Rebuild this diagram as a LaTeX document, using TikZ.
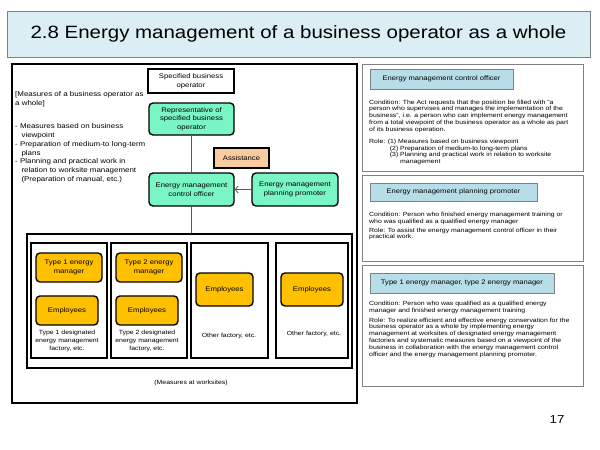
\documentclass[tikz,border=0pt]{standalone}
\usepackage{fontspec}
\setmainfont[FakeStretch=1.15]{Liberation Sans}
\usetikzlibrary{arrows.meta}

\definecolor{titlefill}{RGB}{219,238,243}
\definecolor{headfill}{RGB}{183,222,232}
\definecolor{orggreen}{RGB}{122,245,196}
\definecolor{assistfill}{RGB}{248,203,160}
\definecolor{mgrorange}{RGB}{255,192,0}
\definecolor{panelgray}{RGB}{128,128,128}

\begin{document}
\begin{tikzpicture}[x=1pt, y=-1pt,
		every node/.style = {inner sep=0pt, align=center},
		wh/.style 2 args = {minimum width=#1pt, minimum height=#2pt},
		boxtext/.style = {font=\fontsize{6.7}{8.7}\selectfont},
		frame/.style = {draw, line width=1.3pt},
		orgbox/.style = {boxtext, draw, line width=1.4pt, rounded corners=4pt, fill=orggreen},
		staffbox/.style = {boxtext, draw, line width=1.4pt, rounded corners=4pt, fill=mgrorange},
		panel/.style = {draw=panelgray, line width=0.8pt},
		headbox/.style = {panel, fill=headfill, font=\fontsize{6.6}{8}\selectfont},
		panetext/.style = {anchor=north west, align=left, font=\fontsize{6}{6.8}\selectfont},
		caption/.style = {font=\fontsize{6}{8}\selectfont},
		link/.style = {draw=black!65, line width=0.8pt}]
	\useasboundingbox (0,0) rectangle (600,450);

	% title
	\node[panel, fill=titlefill, wh={583}{46}, font=\fontsize{17.8}{20}\selectfont] (title) at (298.5,34)
		{2.8 Energy management of a business operator as a whole};

	% business operator as a whole
	\node[frame, line width=1.5pt, wh={345}{339}] (whole) at (184.5,233.5) {};
	\node[anchor=north west, align=left, font=\fontsize{6.9}{9}\selectfont] (scope) at (15,91)
		{[Measures of a business operator as\\a whole]};
	\node[anchor=north west, align=left, font=\fontsize{6.9}{8.8}\selectfont] (measures) at (15,123.5)
		{- Measures based on business\\\hphantom{- }\hspace*{1.5pt}viewpoint\\
		- Preparation of medium-to long-term\\\hphantom{- }\hspace*{1.5pt}plans\\
		- Planning and practical work in\\\hphantom{- }\hspace*{1.5pt}relation to worksite management\\
		\hphantom{- }\hspace*{1.5pt}(Preparation of manual, etc.)};

	\node[frame, line width=1.2pt, boxtext, wh={86}{24}] (spec) at (191,81) {Specified business\\operator};
	\node[orgbox, wh={85}{32}] (rep) at (191.5,119) {Representative of\\specified business\\operator};
	\node[draw, line width=1.2pt, fill=assistfill, boxtext, wh={55}{20}] (assist) at (241.5,158) {Assistance};
	\node[orgbox, wh={85}{33}] (officer) at (191.5,189.5) {Energy management\\control officer};
	\node[orgbox, wh={86}{33}] (promoter) at (295,189.5) {Energy management\\planning promoter};

	% worksites
	\node[frame, line width=1.5pt, wh={325}{134}] (sites) at (189.5,301) {};
	\node[frame, wh={76}{115}] (factory1) at (69,300.5) {};
	\node[frame, wh={76}{115}] (factory2) at (149,300.5) {};
	\node[frame, wh={77}{115}] (other1) at (229.5,300.5) {};
	\node[frame, wh={72}{115}] (other2) at (312,300.5) {};

	\node[staffbox, wh={66}{29}] (mgr1) at (69,267.5) {Type 1 energy\\manager};
	\node[staffbox, wh={62}{29}] (emp1) at (67,310.5) {Employees};
	\node[staffbox, wh={66}{29}] (mgr2) at (149,267.5) {Type 2 energy\\manager};
	\node[staffbox, wh={62}{29}] (emp2) at (147,310.5) {Employees};
	\node[staffbox, wh={57}{33}] (emp3) at (224.5,289.5) {Employees};
	\node[staffbox, wh={62}{33}] (emp4) at (312,289.5) {Employees};

	\node[caption] (cap1) at (67,341) {Type 1 designated\\energy management\\factory, etc.};
	\node[caption] (cap2) at (147,341) {Type 2 designated\\energy management\\factory, etc.};
	\node[caption] (cap3) at (229,336) {Other factory, etc.};
	\node[caption] (cap4) at (314,334) {Other factory, etc.};
	\node[caption] (worksites) at (191,383) {(Measures at worksites)};

	\draw[link] (rep) -- (officer);
	\draw[link] (officer) -- (officer |- sites.north);
	\draw[link, -{Straight Barb[length=3pt, width=7pt]}] (promoter) -- (officer);

	% roles
	\node[panel, wh={221}{107}] (pane1) at (472.5,117.5) {};
	\node[headbox, wh={143}{20}] (head1) at (441.5,79) {Energy management control officer};
	\node[panetext] (cond1) at (369,99.5)
		{Condition: The Act requests that the position be filled with "a\\
		person who supervises and manages the implementation of the\\
		business", i.e. a person who can implement energy management\\
		from a total viewpoint of the business operator as a whole as part\\
		of its business operation.};
	\node[panetext] (role1) at (369,138.7)
		{Role: (1) Measures based on business viewpoint\\
		\hphantom{Role: }\hspace*{2pt}(2) Preparation of medium-to long-term plans\\
		\hphantom{Role: }\hspace*{2pt}(3) Planning and practical work in relation to worksite\\
		\hphantom{Role: (3) }\hspace*{2pt}management};

	\node[panel, wh={221}{86}] (pane2) at (472.5,218) {};
	\node[headbox, wh={167}{18}] (head2) at (453.5,192) {Energy management planning promoter};
	\node[panetext] (cond2) at (369,212)
		{Condition: Person who finished energy management training or\\
		who was qualified as a qualified energy manager};
	\node[panetext] (role2) at (369,227.5)
		{Role: To assist the energy management control officer in their\\
		practical work.};

	\node[panel, wh={221}{121}] (pane3) at (472.5,325.5) {};
	\node[headbox, wh={184}{20}] (head3) at (462,283) {Type 1 energy manager, type 2 energy manager};
	\node[panetext] (cond3) at (369,301.3)
		{Condition: Person who was qualified as a qualified energy\\
		manager and finished energy management training};
	\node[panetext] (role3) at (369,317.5)
		{Role: To realize efficient and effective energy conservation for the\\
		business operator as a whole by implementing energy\\
		management at worksites of designated energy management\\
		factories and systematic measures based on a viewpoint of the\\
		business in collaboration with the energy management control\\
		officer and the energy management planning promoter.};

	\node[font=\fontsize{11.5}{13}\selectfont] (page) at (557,420) {17};
\end{tikzpicture}
\end{document}
